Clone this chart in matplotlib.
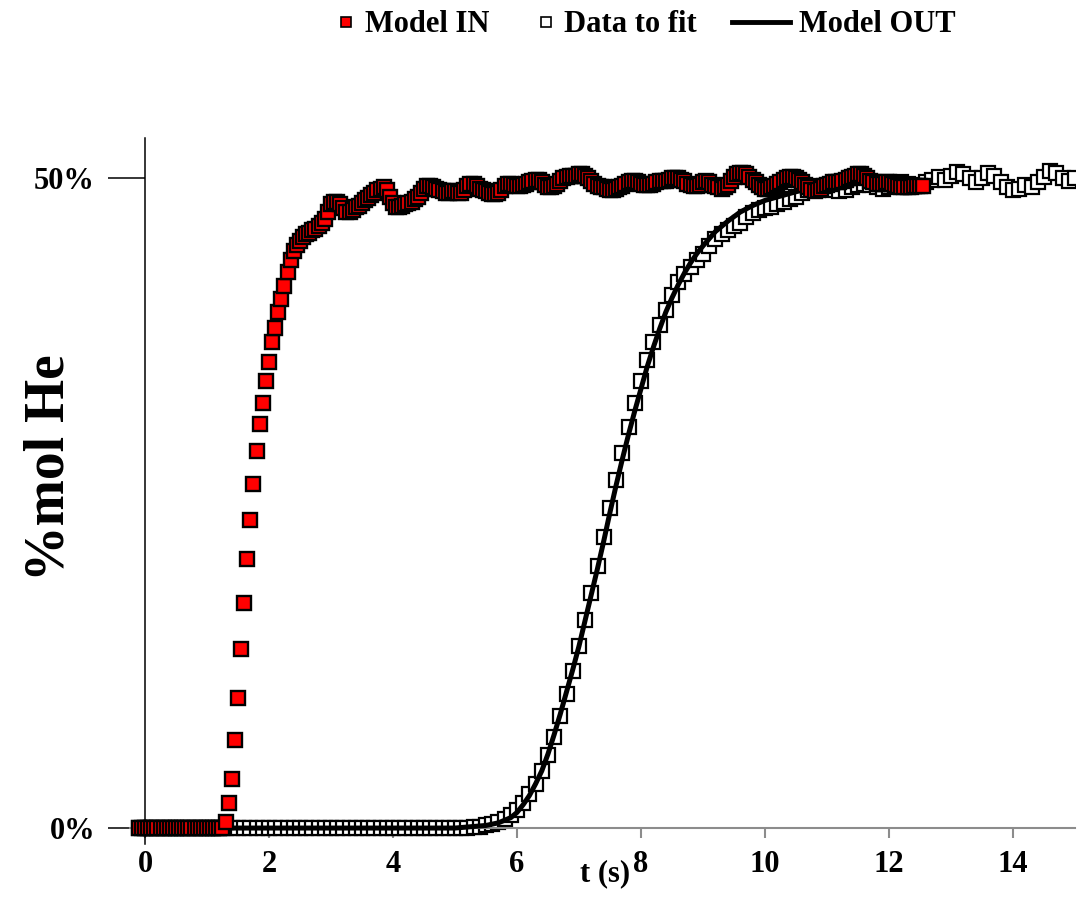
import numpy as np
import matplotlib.pyplot as plt
from matplotlib.lines import Line2D

plt.rcParams["font.family"] = ["Liberation Serif", "DejaVu Serif"]
plt.rcParams["font.weight"] = "bold"

# inlet signal (Model IN), sampled every 0.05 s starting at t = -0.1 s
t0_in, dt_in = -0.1, 0.05
model_in = [0.0] * 28 + [
    0.005, 0.019, 0.038, 0.068, 0.100, 0.138, 0.173, 0.207, 0.237, 0.265,
    0.290, 0.311, 0.327, 0.344, 0.359, 0.374, 0.385, 0.397, 0.407, 0.417,
    0.428, 0.437, 0.444, 0.449, 0.452, 0.455, 0.457, 0.458, 0.460, 0.461,
    0.463, 0.466, 0.469, 0.474, 0.480, 0.482, 0.482, 0.480, 0.477, 0.474,
    0.474, 0.476, 0.478, 0.479, 0.481, 0.483, 0.485, 0.487, 0.489, 0.491,
    0.492, 0.493, 0.491, 0.486, 0.481, 0.478, 0.478, 0.479, 0.480, 0.481,
    0.482, 0.484, 0.486, 0.489, 0.492, 0.494, 0.494, 0.493, 0.492, 0.491,
    0.490, 0.489, 0.489, 0.490, 0.490, 0.489, 0.489, 0.491, 0.494, 0.496,
    0.496, 0.494, 0.492, 0.491, 0.490, 0.489, 0.488, 0.488, 0.489, 0.491,
    0.494, 0.496, 0.496, 0.495, 0.494, 0.494, 0.495, 0.496, 0.497, 0.498,
    0.499, 0.499, 0.497, 0.495, 0.493, 0.493, 0.494, 0.496, 0.498, 0.500,
    0.501, 0.502, 0.502, 0.502, 0.503, 0.503, 0.502, 0.500, 0.498, 0.496,
    0.494, 0.493, 0.493, 0.492, 0.491, 0.491, 0.492, 0.493, 0.494, 0.496,
    0.497, 0.498, 0.498, 0.497, 0.496, 0.495, 0.495, 0.495, 0.496, 0.497,
    0.498, 0.498, 0.498, 0.499, 0.500, 0.500, 0.500, 0.499, 0.498, 0.496,
    0.495, 0.494, 0.494, 0.495, 0.497, 0.498, 0.497, 0.495, 0.494, 0.493,
    0.492, 0.493, 0.495, 0.498, 0.501, 0.503, 0.504, 0.504, 0.503, 0.501,
    0.499, 0.497, 0.495, 0.493, 0.492, 0.492, 0.493, 0.494, 0.496, 0.497,
    0.499, 0.500, 0.501, 0.501, 0.500, 0.499, 0.497, 0.495, 0.493, 0.491,
    0.490, 0.491, 0.492, 0.494, 0.495, 0.496, 0.497, 0.497, 0.497, 0.498,
    0.499, 0.500, 0.501, 0.502, 0.503, 0.503, 0.502, 0.500, 0.498, 0.497,
    0.496, 0.496, 0.496, 0.497, 0.497, 0.496, 0.495, 0.494, 0.493, 0.493,
    0.493, 0.493, 0.494, 0.494, 0.494, 0.494,
]

# measured outlet signal (Data to fit), sampled every 0.1 s starting at t = -0.1 s
t0_out, dt_out = -0.1, 0.1
data_fit = [0.0] * 54 + [
    0.001, 0.001, 0.002, 0.003, 0.005, 0.007, 0.010, 0.014, 0.019, 0.026,
    0.034, 0.044, 0.056, 0.070, 0.086, 0.103, 0.121, 0.140, 0.160, 0.181,
    0.202, 0.224, 0.246, 0.268, 0.289, 0.309, 0.327, 0.344, 0.360, 0.374,
    0.387, 0.399, 0.410, 0.420, 0.426, 0.432, 0.437, 0.442, 0.448, 0.453,
    0.457, 0.460, 0.463, 0.466, 0.470, 0.473, 0.476, 0.477, 0.478, 0.480,
    0.482, 0.484, 0.486, 0.489, 0.491, 0.492, 0.494, 0.493, 0.491, 0.490,
    0.491, 0.493, 0.495, 0.496, 0.495, 0.493, 0.492, 0.493, 0.495, 0.497,
    0.496, 0.494, 0.495, 0.497, 0.499, 0.501, 0.499, 0.502, 0.505, 0.503,
    0.500, 0.497, 0.500, 0.504, 0.502, 0.497, 0.493, 0.491, 0.492, 0.495,
    0.493, 0.497, 0.501, 0.506, 0.504, 0.500, 0.498, 0.500,
]

# fitted outlet (Model OUT)
t_model = [-0.1, 5.0, 5.5, 5.7, 5.9, 6.0, 6.1, 6.2, 6.3, 6.4, 6.5, 6.6, 6.7,
           6.8, 6.9, 7.0, 7.1, 7.2, 7.3, 7.4, 7.5, 7.6, 7.7, 7.8, 7.9, 8.0,
           8.1, 8.2, 8.3, 8.4, 8.5, 8.6, 8.7, 8.8, 8.9, 9.0, 9.2, 9.4, 9.6,
           9.8, 10.0, 10.3, 10.6, 11.0, 11.5, 12.0, 12.55]
model_out = [0.0, 0.0, 0.002, 0.004, 0.008, 0.012, 0.018, 0.025, 0.034, 0.044,
             0.057, 0.072, 0.088, 0.105, 0.122, 0.140, 0.160, 0.180, 0.200,
             0.221, 0.243, 0.264, 0.284, 0.303, 0.321, 0.338, 0.355, 0.370,
             0.384, 0.397, 0.408, 0.418, 0.427, 0.435, 0.442, 0.448, 0.459,
             0.467, 0.474, 0.479, 0.483, 0.487, 0.491, 0.494, 0.496, 0.497,
             0.498]

t_in = t0_in + dt_in * np.arange(len(model_in))
t_out = t0_out + dt_out * np.arange(len(data_fit))

fig = plt.figure(figsize=(10.91, 9.16), dpi=100)
ax = fig.add_axes([0.1187, 0.079, 0.8666, 0.7703])

ax.plot(t_out, data_fit, ls="none", marker="s", ms=10, mfc="white",
        mec="black", mew=1.6, zorder=2)
ax.plot(t_model, model_out, color="black", lw=3.6, zorder=3)
ax.plot(t_in, model_in, ls="none", marker="s", ms=10, mfc="#ff0000",
        mec="black", mew=1.7, zorder=4)

ax.set_xlim(-0.25, 15.0)
ax.set_ylim(-0.012, 0.531)

for side in ["top", "right"]:
    ax.spines[side].set_visible(False)
ax.spines["left"].set_position(("data", 0))
ax.spines["bottom"].set_position(("data", 0))
ax.spines["left"].set_linewidth(1.1)
ax.spines["bottom"].set_color("#8c8c8c")
ax.spines["bottom"].set_linewidth(1.5)

ax.set_xticks(range(0, 15, 2))
ax.set_yticks([0, 0.5])
ax.set_yticklabels(["0%", "50%"])
ax.tick_params(axis="x", direction="out", length=7, width=1.5,
               color="#8c8c8c", labelsize=22, pad=9)
ax.tick_params(axis="y", direction="out", length=27, width=1.1,
               color="black", labelsize=22, pad=9)

fig.text(0.555, 0.046, "t (s)", ha="center", va="center", fontsize=22)
fig.text(0.045, 0.489, "%mol He", rotation=90, ha="center", va="center",
         fontsize=40)

# one legend per entry so each handle keeps its own length
entries = [
    (Line2D([], [], ls="none", marker="s", ms=7.5, mfc="#ff0000", mec="black",
            mew=1.2), "Model IN", 0.6, 0.309),
    (Line2D([], [], ls="none", marker="s", ms=7.5, mfc="white", mec="black",
            mew=1.2), "Data to fit", 0.6, 0.492),
    (Line2D([], [], color="black", lw=3.5), "Model OUT", 1.9, 0.671),
]
for handle, label, hlen, xpos in entries:
    fig.legend([handle], [label], loc="center left",
               bbox_to_anchor=(xpos, 0.973), frameon=False, fontsize=22,
               handlelength=hlen, handletextpad=0.3, borderpad=0,
               borderaxespad=0)

fig.savefig("out.png", dpi=100)
